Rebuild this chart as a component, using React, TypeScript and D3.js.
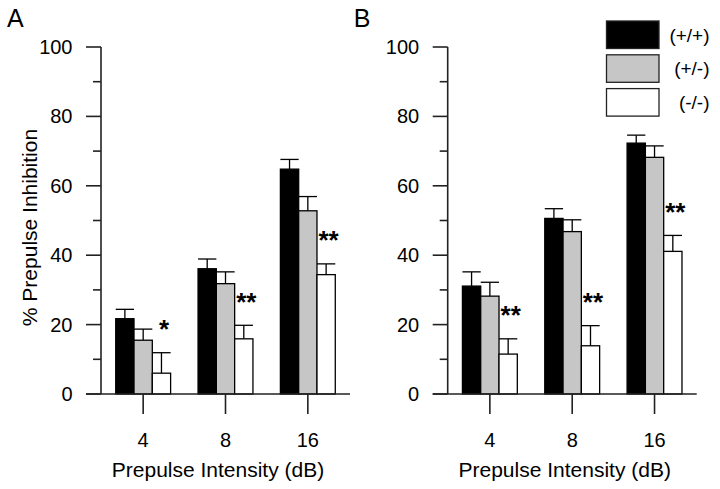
import React from "react";
import * as d3 from "d3";

const categories = ["4", "8", "16"];
const genotypes = ["(+/+)", "(+/-)", "(-/-)"];
const fills = ["#000000", "#c6c6c6", "#ffffff"];
const yTicks = [0, 20, 40, 60, 80, 100];
const yMinorTicks = [10, 30, 50, 70, 90];

// Panel A means and SEM per genotype across categories
const aWT = [21.7, 36.1, 64.8];
const aWTErr = [2.7, 2.8, 2.8];
const aHet = [15.5, 31.8, 52.8];
const aHetErr = [3.2, 3.4, 4.1];
const aKO = [6.0, 15.9, 34.4];
const aKOErr = [5.9, 3.9, 3.1];
const aStars = ["*", "**", "**"];

// Panel B
const bWT = [31.1, 50.6, 72.3];
const bWTErr = [4.1, 2.8, 2.3];
const bHet = [28.2, 46.8, 68.2];
const bHetErr = [4.0, 3.4, 3.3];
const bKO = [11.5, 13.9, 41.1];
const bKOErr = [4.4, 5.8, 4.6];
const bStars = ["**", "**", "**"];

const FONT = "'Liberation Sans', Arial, Helvetica, sans-serif";
const AXIS = "#222";

type PanelProps = {
  label: string;
  axisX: number;
  series: number[][];
  errs: number[][];
  stars: string[];
  legend?: boolean;
  yTitle?: boolean;
};

const y = d3.scaleLinear().domain([0, 100]).range([394, 47]);

function Panel({ label, axisX, series, errs, stars, legend, yTitle }: PanelProps) {
  const x0 = d3
    .scaleBand<string>()
    .domain(categories)
    .range([axisX + 1, axisX + 248])
    .paddingInner(1 / 3)
    .paddingOuter(1 / 6);
  const x1 = d3.scaleBand<string>().domain(genotypes).range([0, x0.bandwidth()]);
  const y0 = y(0);
  return (
    <g>
      <text x={axisX - 94} y={26.5} fontSize={25} fontFamily={FONT}>
        {label}
      </text>
      {yTitle && (
        <text
          transform={`translate(${axisX - 64.5},${(y(0) + y(100)) / 2 + 7}) rotate(-90)`}
          textAnchor="middle"
          fontSize={21}
          fontFamily={FONT}
        >
          % Prepulse Inhibition
        </text>
      )}
      {categories.map((c, ci) =>
        genotypes.map((g, gi) => {
          const v = series[gi][ci];
          const e = errs[gi][ci];
          const bx = (x0(c) as number) + (x1(g) as number);
          const bw = x1.bandwidth();
          const cx = bx + bw / 2;
          return (
            <g key={c + g}>
              <line x1={cx} x2={cx} y1={y(v)} y2={y(v + e)} stroke="#000" strokeWidth={1.3} />
              <line x1={bx} x2={bx + bw} y1={y(v + e)} y2={y(v + e)} stroke="#000" strokeWidth={1.3} />
              <rect x={bx} y={y(v)} width={bw} height={y0 - y(v)} fill={fills[gi]} stroke="#000" strokeWidth={1.3} />
            </g>
          );
        })
      )}
      {categories.map((c, ci) => {
        const gi = 2;
        const bx = (x0(c) as number) + (x1(genotypes[gi]) as number);
        const cx = bx + x1.bandwidth() / 2 + 2.5;
        const top = series[gi][ci] + errs[gi][ci] + 8;
        return (
          <text key={"s" + c} x={cx} y={y(top) + 13} textAnchor="middle" fontSize={26} fontWeight="bold" fontFamily={FONT}>
            {stars[ci]}
          </text>
        );
      })}
      <line x1={axisX} x2={axisX} y1={y(100)} y2={y(0)} stroke={AXIS} strokeWidth={1.6} />
      {yTicks.map((t) => (
        <g key={"t" + t}>
          <line x1={axisX - 15} x2={axisX} y1={y(t)} y2={y(t)} stroke={AXIS} strokeWidth={1.6} />
          <text x={axisX - 28.5} y={y(t) + 7} textAnchor="end" fontSize={20} fontFamily={FONT}>
            {t}
          </text>
        </g>
      ))}
      {yMinorTicks.map((t) => (
        <line key={"m" + t} x1={axisX - 8} x2={axisX} y1={y(t)} y2={y(t)} stroke={AXIS} strokeWidth={1.6} />
      ))}
      <line x1={axisX - 15} x2={axisX + 249} y1={y0} y2={y0} stroke={AXIS} strokeWidth={1.6} />
      {categories.map((c) => {
        const cx = (x0(c) as number) + x0.bandwidth() / 2;
        return (
          <g key={"x" + c}>
            <line x1={cx} x2={cx} y1={y0} y2={y0 + 20} stroke={AXIS} strokeWidth={1.6} />
            <text x={cx} y={447} textAnchor="middle" fontSize={20} fontFamily={FONT}>
              {c}
            </text>
          </g>
        );
      })}
      <text x={axisX + 117} y={476.5} textAnchor="middle" fontSize={21} fontFamily={FONT}>
        Prepulse Intensity (dB)
      </text>
      {legend &&
        genotypes.map((g, gi) => {
          const top = 21 + gi * 33.8;
          return (
            <g key={"l" + g}>
              <rect x={606.5} y={top} width={52.5} height={27.5} fill={fills[gi]} stroke="#222" strokeWidth={1.3} />
              <text x={709.5} y={top + 20.5} textAnchor="end" fontSize={19} fontFamily={FONT}>
                {g}
              </text>
            </g>
          );
        })}
    </g>
  );
}

export default function App() {
  return (
    <svg
      width={720}
      height={489}
      style={{ position: "absolute", left: 0, top: 0, background: "#fff" }}
    >
      <rect width={720} height={489} fill="#fff" />
      <Panel label="A" axisX={101} series={[aWT, aHet, aKO]} errs={[aWTErr, aHetErr, aKOErr]} stars={aStars} yTitle />
      <Panel label="B" axisX={447.7} series={[bWT, bHet, bKO]} errs={[bWTErr, bHetErr, bKOErr]} stars={bStars} legend />
    </svg>
  );
}
